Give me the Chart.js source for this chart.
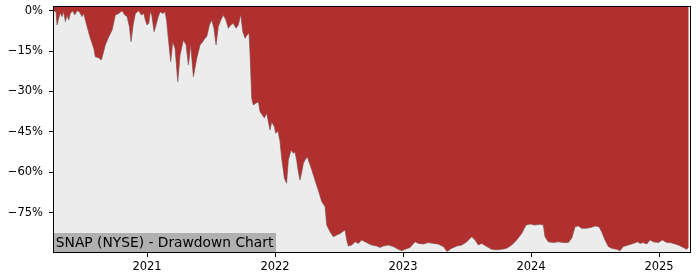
<!DOCTYPE html>
<html>
<head>
<meta charset="utf-8">
<script src="https://cdn.jsdelivr.net/npm/chart.js@4"></script>
<style>
html,body{margin:0;padding:0;background:#fff;}
#wrap{width:700px;height:280px;position:relative;}
</style>
</head>
<body>
<div id="wrap"><canvas id="c" width="700" height="280"></canvas></div>
<script>
// Decimal-year positions of the samples
const dates = [
2020.273,2020.289,2020.297,2020.310,2020.323,2020.336,2020.349,2020.362,2020.375,2020.388,
2020.401,2020.420,2020.435,2020.453,2020.471,2020.492,2020.505,2020.518,2020.539,2020.557,
2020.584,2020.596,2020.623,2020.643,2020.654,2020.674,2020.701,2020.727,2020.752,2020.779,
2020.805,2020.826,2020.844,2020.862,2020.875,2020.891,2020.909,2020.935,2020.955,2020.974,
2020.987,2021.000,2021.013,2021.026,2021.037,2021.055,2021.070,2021.088,2021.102,2021.123,
2021.141,2021.154,2021.166,2021.185,2021.201,2021.219,2021.240,2021.258,2021.284,2021.305,
2021.323,2021.341,2021.362,2021.388,2021.414,2021.435,2021.453,2021.466,2021.487,2021.505,
2021.523,2021.539,2021.557,2021.576,2021.596,2021.617,2021.635,2021.654,2021.674,2021.695,
2021.713,2021.732,2021.748,2021.766,2021.781,2021.797,2021.805,2021.818,2021.830,2021.849,
2021.870,2021.883,2021.901,2021.916,2021.935,2021.948,2021.961,2021.974,2021.995,2022.005,
2022.023,2022.039,2022.052,2022.073,2022.090,2022.104,2022.125,2022.143,2022.156,2022.170,
2022.182,2022.195,2022.209,2022.221,2022.234,2022.252,2022.287,2022.320,2022.338,2022.365,
2022.391,2022.404,2022.430,2022.455,2022.482,2022.508,2022.547,2022.560,2022.573,2022.599,
2022.625,2022.651,2022.677,2022.703,2022.729,2022.755,2022.795,2022.820,2022.846,2022.885,
2022.924,2022.963,2022.990,2023.016,2023.055,2023.094,2023.120,2023.159,2023.198,2023.237,
2023.273,2023.315,2023.344,2023.380,2023.420,2023.459,2023.498,2023.537,2023.563,2023.588,
2023.615,2023.654,2023.693,2023.732,2023.771,2023.810,2023.849,2023.888,2023.927,2023.961,
2023.992,2024.031,2024.070,2024.096,2024.109,2024.135,2024.174,2024.213,2024.250,2024.291,
2024.318,2024.344,2024.370,2024.396,2024.435,2024.474,2024.500,2024.531,2024.552,2024.578,
2024.604,2024.630,2024.670,2024.695,2024.721,2024.760,2024.799,2024.834,2024.852,2024.875,
2024.904,2024.930,2024.955,2024.995,2025.026,2025.060,2025.086,2025.112,2025.151,2025.190,
2025.216,2025.232
];
// Drawdown from running peak, percent
const drawdown = [
0,-0.5,-5.3,-2.7,-0.9,-2.2,-0.4,-4.1,-1.6,-3.5,
-0.9,-0.1,-1.6,0,-0.4,-2.2,-1.0,-3.5,-7.2,-10.2,
-14.0,-17.1,-17.5,-18.3,-16.4,-12.7,-9.7,-7.2,-1.6,-1.0,
0,-1.6,-2.2,-5.9,-11.5,-5.3,-1.0,0,-1.6,-1.0,
-3.5,-5.3,-4.7,-0.4,-1.6,-7.8,-5.3,-2.2,-0.4,-1.0,
-0.4,-4.1,-10.2,-18.9,-11.5,-14.0,-26.4,-16.4,-10.9,-12.7,
-20.2,-12.7,-24.5,-17.7,-12.7,-11.5,-10.2,-9.7,-5.3,-3.5,
-6.5,-12.7,-5.9,-3.5,-1.6,-3.5,-6.5,-5.3,-4.7,-6.5,
-5.3,-1.4,-7.8,-10.2,-9.0,-8.4,-16.4,-32.5,-35.0,-34.4,
-33.8,-37.5,-38.7,-39.8,-38.1,-41.2,-44.3,-41.2,-43.1,-45.5,
-44.7,-48.6,-54.8,-62.2,-64.1,-55.4,-51.7,-52.9,-52.5,-55.8,
-59.8,-62.9,-59.8,-56.7,-55.4,-54.2,-59.1,-64.1,-66.6,-70.9,
-72.8,-79.6,-82.1,-83.9,-83.3,-82.7,-81.4,-85.1,-87.4,-87.0,
-85.8,-86.4,-85.1,-85.8,-86.4,-87.0,-87.4,-87.9,-87.4,-87.0,
-87.6,-88.6,-89.1,-88.6,-87.9,-85.8,-86.4,-86.6,-86.1,-86.4,
-86.6,-87.6,-89.4,-88.2,-87.4,-87.0,-85.8,-83.9,-85.1,-87.0,
-86.4,-87.6,-88.6,-88.8,-88.6,-88.2,-87.0,-85.1,-82.7,-79.6,
-79.2,-79.6,-79.3,-79.6,-83.9,-85.8,-86.1,-85.8,-86.1,-86.1,
-84.5,-80.2,-79.9,-80.8,-80.8,-80.4,-79.9,-80.2,-82.1,-85.1,
-87.6,-88.2,-88.6,-89.1,-87.6,-87.0,-86.4,-85.8,-86.4,-86.1,
-86.6,-85.1,-85.8,-86.1,-85.1,-86.1,-86.1,-86.4,-87.0,-87.9,
-88.6,-87.6
];
const yearTicks = [2021, 2022, 2023, 2024, 2025];
const pctTicks = [0, -15, -30, -45, -60, -75];
const title = 'SNAP (NYSE) - Drawdown Chart';

const pts = dates.map((d, i) => ({x: d, y: drawdown[i]}));
const FONT = 'DejaVu Sans';

const boxPlugin = {
  id: 'boxPlugin',
  afterDraw(chart) {
    const {ctx, chartArea: a} = chart;
    ctx.save();
    // caption box
    ctx.font = '13.8px "' + FONT + '"';
    const w = ctx.measureText(title).width;
    ctx.fillStyle = '#b0b0b0';
    ctx.fillRect(a.left, a.bottom - 19, w + 4.5, 19);
    ctx.fillStyle = '#000';
    ctx.textBaseline = 'alphabetic';
    ctx.fillText(title, a.left + 1.8, a.bottom - 4.8);
    // frame
    ctx.strokeStyle = '#000';
    ctx.lineWidth = 1;
    ctx.strokeRect(Math.round(a.left) - 0.5, Math.round(a.top) - 0.5,
                   Math.round(a.right - a.left) + 1, Math.round(a.bottom - a.top) + 1);
    ctx.restore();
  }
};

new Chart(document.getElementById('c'), {
  type: 'line',
  data: {
    datasets: [
      {
        data: pts,
        fill: 'end',
        backgroundColor: '#b03030',
        borderWidth: 0,
        pointRadius: 0,
        tension: 0
      },
      {
        data: pts,
        fill: 'start',
        backgroundColor: '#ececec',
        borderColor: '#8c8c8c',
        borderWidth: 1,
        pointRadius: 0,
        tension: 0
      }
    ]
  },
  options: {
    responsive: false,
    animation: false,
    devicePixelRatio: 1,
    layout: {padding: {left: 0, right: 10, top: 7, bottom: 0}},
    plugins: {legend: {display: false}, tooltip: {enabled: false}},
    scales: {
      x: {
        type: 'linear',
        min: 2020.273,
        max: 2025.242,
        afterBuildTicks: s => { s.ticks = yearTicks.map(v => ({value: v})); },
        afterFit: s => { s.height = 28; s.paddingLeft = 0; s.paddingRight = 0; },
        ticks: {
          color: '#000',
          font: {family: FONT, size: 11.5},
          padding: 3,
          maxRotation: 0,
          callback: v => String(v)
        },
        grid: {drawOnChartArea: false, color: '#000', tickLength: 5, tickWidth: 1},
        border: {display: true, color: '#000', width: 1}
      },
      y: {
        min: -89.6,
        max: 1.37,
        afterBuildTicks: s => { s.ticks = pctTicks.map(v => ({value: v})); },
        afterFit: s => { s.width = 54; s.paddingTop = 0; s.paddingBottom = 0; },
        ticks: {
          color: '#000',
          font: {family: FONT, size: 11.5},
          padding: 6,
          callback: v => (v < 0 ? '\u2212' + Math.abs(v) : v) + '%'
        },
        grid: {drawOnChartArea: false, color: '#000', tickLength: 5, tickWidth: 1},
        border: {display: true, color: '#000', width: 1}
      }
    }
  },
  plugins: [boxPlugin]
});
</script>
</body>
</html>
